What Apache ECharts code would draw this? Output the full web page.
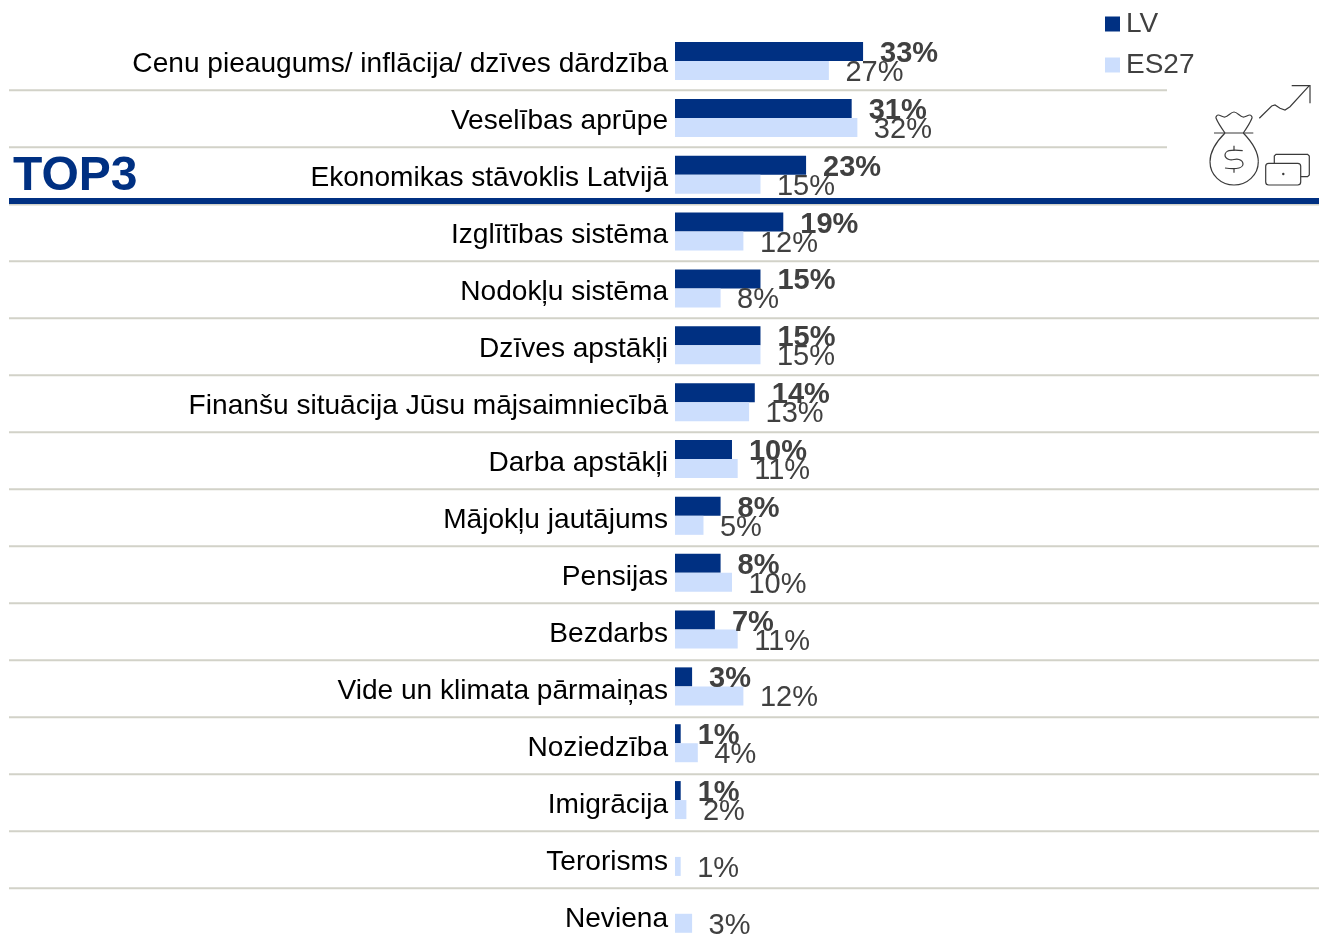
<!DOCTYPE html>
<html>
<head>
<meta charset="utf-8">
<style>
	html, body { margin: 0; padding: 0; background: #fff; overflow: hidden; }
	#main { width: 1319px; height: 935px; }
</style>
<script src="https://cdn.jsdelivr.net/npm/echarts@6/dist/echarts.min.js"></script>
</head>
<body>
<div id="main"></div>
<script>
var categories = ['Cenu pieaugums/ inflācija/ dzīves dārdzība', 'Veselības aprūpe', 'Ekonomikas stāvoklis Latvijā', 'Izglītības sistēma', 'Nodokļu sistēma', 'Dzīves apstākļi', 'Finanšu situācija Jūsu mājsaimniecībā', 'Darba apstākļi', 'Mājokļu jautājums', 'Pensijas', 'Bezdarbs', 'Vide un klimata pārmaiņas', 'Noziedzība', 'Imigrācija', 'Terorisms', 'Neviena'];
var lvValues = [33, 31, 23, 19, 15, 15, 14, 10, 8, 8, 7, 3, 1, 1, null, null];
var es27Values = [27, 32, 15, 12, 8, 15, 13, 11, 5, 10, 11, 12, 4, 2, 1, 3];

var FONT = '"Liberation Sans", Arial, sans-serif';
var LINE_GRAY = '#D2D2C8';
var BLUE = '#003082';
var ICON_GRAY = '#3a3a3a';

var chart = echarts.init(document.getElementById('main'), null, { renderer: 'canvas', devicePixelRatio: 1 });

// separators are part of the slide table, not the chart, they step 57px
var lines = [];
for (var i = 0; i < 15; i++) {
	var y = 90.3 + 57 * i;
	if (i === 2) continue;
	lines.push({
		type: 'line',
		silent: true,
		shape: { x1: 9, y1: y, x2: i < 2 ? 1167 : 1319, y2: y },
		style: { stroke: LINE_GRAY, lineWidth: 2 }
	});
}
lines.push({ type: 'line', silent: true, shape: { x1: 9, y1: 204.5, x2: 1319, y2: 204.5 }, style: { stroke: LINE_GRAY, lineWidth: 2 } });
lines.push({ type: 'rect', silent: true, shape: { x: 9, y: 198, width: 1310, height: 6 }, style: { fill: BLUE } });

function stroke(type, shape) {
	return { type: type, silent: true, shape: shape, style: { fill: null, stroke: ICON_GRAY, lineWidth: 1.2 } };
}
// money bag + cards + arrow decoration
var icons = [
	stroke('polyline', { points: [[1259.3, 118.3], [1271.7, 106], [1275, 105], [1280, 108.3], [1285, 110], [1290, 106.7], [1309.3, 85.7]] }),
	stroke('polyline', { points: [[1291.7, 85.7], [1310, 85.7], [1310, 103.3]] }),
	stroke('line', { x1: 1214, y1: 133, x2: 1253.3, y2: 133 }),
	stroke('bezierCurve', { x1: 1225, y1: 133, cpx1: 1216, cpy1: 142, cpx2: 1210, cpy2: 151, x2: 1210, y2: 161.7 }),
	stroke('bezierCurve', { x1: 1210, y1: 161.7, cpx1: 1210, cpy1: 175, cpx2: 1221, cpy2: 185, x2: 1234, y2: 185 }),
	stroke('bezierCurve', { x1: 1234, y1: 185, cpx1: 1247, cpy1: 185, cpx2: 1258.3, cpy2: 175, x2: 1258.3, y2: 161.7 }),
	stroke('bezierCurve', { x1: 1258.3, y1: 161.7, cpx1: 1258.3, cpy1: 151, cpx2: 1252, cpy2: 142, x2: 1243.3, y2: 133 }),
	stroke('polyline', { smooth: 0.35, points: [[1225, 133], [1216, 118], [1218, 115], [1225, 117], [1234, 112], [1243, 117], [1250, 115], [1252, 118], [1243.3, 133]] }),
	stroke('polyline', { smooth: 0.4, points: [[1242.7, 150.7], [1229, 150.7], [1225, 155], [1229, 159.5], [1239, 159.5], [1243, 164], [1239, 168], [1225, 168]] }),
	stroke('line', { x1: 1234, y1: 145.7, x2: 1234, y2: 150.7 }),
	stroke('line', { x1: 1234, y1: 168, x2: 1234, y2: 172.7 }),
	stroke('rect', { x: 1265.7, y: 163.3, width: 35, height: 21.7, r: 3 }),
	stroke('polyline', { points: [[1274.3, 163.3], [1274.3, 156], [1276, 154.3], [1307.6, 154.3], [1309.3, 156], [1309.3, 175], [1307.6, 176.7], [1300.7, 176.7]] }),
	{ type: 'circle', silent: true, shape: { cx: 1283.3, cy: 174, r: 1.2 }, style: { fill: ICON_GRAY } }
];

var option = {
	animation: false,
	backgroundColor: '#fff',
	textStyle: { fontFamily: FONT },
	color: [BLUE, '#CCDEFD'],
	legend: {
		orient: 'vertical',
		left: 1105,
		top: 10,
		padding: 0,
		itemWidth: 15,
		itemHeight: 15,
		itemGap: 13,
		icon: 'rect',
		selectedMode: false,
		data: ['LV', 'ES27'],
		textStyle: { fontFamily: FONT, fontSize: 28, color: '#404040', padding: [2, 0, 0, 1] }
	},
	grid: [
		// bars, the last row runs past the bottom edge of the page
		{ left: 675, top: 32.6, width: 644, height: 909.6, outerBoundsMode: 'none' },
		// row labels follow the 57px table rows
		{ left: 675, top: 35.5, width: 644, height: 912, outerBoundsMode: 'none' }
	],
	xAxis: [
		{ type: 'value', gridIndex: 0, min: 0, max: 113, show: false },
		{ type: 'value', gridIndex: 1, min: 0, max: 113, show: false }
	],
	yAxis: [
		{ type: 'category', gridIndex: 0, inverse: true, data: categories, axisLine: { show: false }, axisTick: { show: false }, axisLabel: { show: false } },
		{
			type: 'category',
			gridIndex: 1,
			inverse: true,
			data: categories,
			axisLine: { show: false },
			axisTick: { show: false },
			axisLabel: { interval: 0, margin: 7, fontFamily: FONT, fontSize: 28.1, color: '#000' }
		}
	],
	graphic: [{
		type: 'text',
		silent: true,
		left: 13,
		top: 153,
		style: { text: 'TOP3', fontFamily: FONT, fontSize: 48, fontWeight: 'bold', fill: BLUE }
	}].concat(lines, icons),
	series: [
		{
			name: 'LV',
			type: 'bar',
			xAxisIndex: 0,
			yAxisIndex: 0,
			barWidth: 19,
			barGap: 0,
			data: lvValues,
			z: 3,
			label: { show: true, position: 'right', distance: 17, offset: [0, 2.5], formatter: '{c}%', fontFamily: FONT, fontSize: 29, fontWeight: 'bold', color: '#404040' }
		},
		{
			name: 'ES27',
			type: 'bar',
			xAxisIndex: 0,
			yAxisIndex: 0,
			barWidth: 19,
			barGap: 0,
			data: es27Values,
			z: 3,
			label: { show: true, position: 'right', distance: 16.5, offset: [0, 2.5], formatter: '{c}%', fontFamily: FONT, fontSize: 29, color: '#404040' }
		}
	]
};

option && chart.setOption(option);
</script>
</body>
</html>
